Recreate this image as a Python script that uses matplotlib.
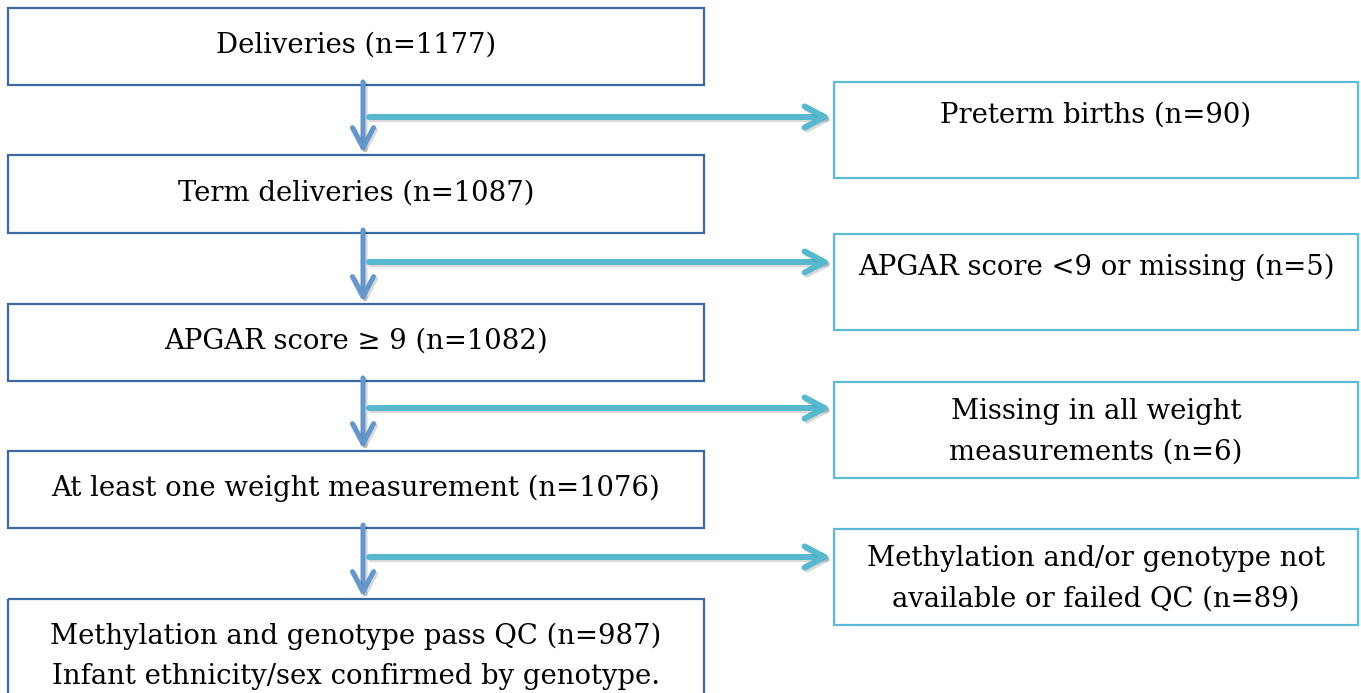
import matplotlib
matplotlib.use("Agg")
import matplotlib.pyplot as plt
from matplotlib.patches import Rectangle, FancyArrowPatch
import matplotlib.patheffects as pe

# flow counts
main_steps = ["Deliveries", "Term deliveries", "APGAR score \u2265 9",
              "At least one weight measurement",
              "Methylation and genotype pass QC"]
main_counts = [1177, 1087, 1082, 1076, 987]
main_notes = ["", "", "", "", "\nInfant ethnicity/sex confirmed by genotype."]

excl_steps = ["Preterm births", "APGAR score <9 or missing",
              "Missing in all weight\nmeasurements",
              "Methylation and/or genotype not\navailable or failed QC"]
excl_counts = [90, 5, 6, 89]

# layout in pixels (figure is 1361 x 693)
W, H = 1361, 693
left_x0, left_x1 = 8, 704
left_tops = [8, 155, 304, 451, 599]
left_bots = [85, 233, 381, 528, 720]
right_x0, right_x1 = 834, 1358
right_tops = [82, 234, 382, 529]
right_h = 96
branch_y = [117, 262, 408, 557]
stem_x = 363

dark_blue = "#3A6AA5"
light_blue = "#5BBAD5"
arrow_blue = "#6497CB"
arrow_teal = "#58B8D0"

plt.rcParams["font.family"] = ["DejaVu Serif"]
FS = 19.8
LS = 1.62

fig = plt.figure(figsize=(W / 100, H / 100), dpi=100)
ax = fig.add_axes([0, 0, 1, 1])
ax.set_xlim(0, W)
ax.set_ylim(H, 0)
ax.axis("off")

shadow = [pe.SimpleLineShadow(offset=(1.5, -1.5), shadow_color="k", alpha=0.15),
          pe.Normal()]
head = "->,head_length=0.36,head_width=0.19"

# main boxes
for i in range(len(main_steps)):
    top, bot = left_tops[i], left_bots[i]
    ax.add_patch(Rectangle((left_x0, top), left_x1 - left_x0, bot - top,
                           fill=False, edgecolor=dark_blue, lw=1.6))
    label = "%s (n=%d)%s" % (main_steps[i], main_counts[i], main_notes[i])
    if main_notes[i]:
        yc = top + 57
    else:
        yc = (top + bot) / 2 - 1
    ax.text((left_x0 + left_x1) / 2, yc, label, ha="center", va="center",
            fontsize=FS, linespacing=LS)

# vertical arrows
for i in range(len(main_steps) - 1):
    a = FancyArrowPatch((stem_x, left_bots[i] - 3), (stem_x, left_tops[i + 1] - 2),
                        arrowstyle=head, mutation_scale=40,
                        color=arrow_blue, lw=3.6,
                        capstyle="round", joinstyle="round",
                        shrinkA=0, shrinkB=0)
    a.set_path_effects(shadow)
    ax.add_patch(a)

# exclusion boxes and branch arrows
for i in range(len(excl_steps)):
    top = right_tops[i]
    ax.add_patch(Rectangle((right_x0, top), right_x1 - right_x0, right_h,
                           fill=False, edgecolor=light_blue, lw=1.6))
    label = "%s (n=%d)" % (excl_steps[i], excl_counts[i])
    nl = label.count("\n")
    yc = top + 33 + 17 * nl
    ax.text((right_x0 + right_x1) / 2, yc, label, ha="center", va="center",
            fontsize=FS, linespacing=LS)

    a = FancyArrowPatch((stem_x + 6, branch_y[i]), (right_x0 - 3, branch_y[i]),
                        arrowstyle=head, mutation_scale=40,
                        color=arrow_teal, lw=4.3,
                        capstyle="round", joinstyle="round",
                        shrinkA=0, shrinkB=0)
    a.set_path_effects(shadow)
    ax.add_patch(a)

fig.savefig("out.png", dpi=100)
